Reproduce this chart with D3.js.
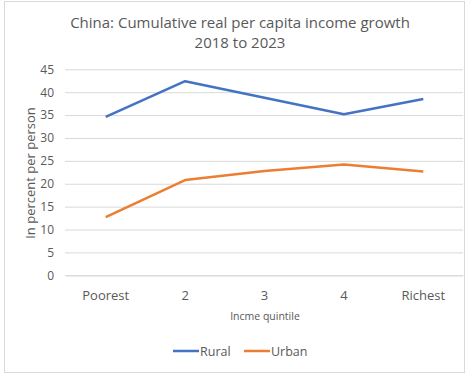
<!DOCTYPE html>
<html><head><meta charset="utf-8">
<script src="https://cdn.jsdelivr.net/npm/d3@7"></script>
<style>body{margin:0;background:#fff}</style>
</head><body>
<svg id="c" width="472" height="379"></svg>
<script>
const categories = ["Poorest", "2", "3", "4", "Richest"];
const rural = [34.6, 42.4, 38.8, 35.2, 38.5];
const urban = [12.7, 20.8, 22.8, 24.2, 22.7];
const yTicks = [0, 5, 10, 15, 20, 25, 30, 35, 40, 45];
const seriesNames = ["Rural", "Urban"];
const colors = ["#4472C4", "#ED7D31"];

const svg = d3.select("#c");
const font = "'Open Sans', sans-serif";
const txt = "#595959";

svg.append("rect").attr("x", 4.5).attr("y", 1.5).attr("width", 460).attr("height", 371)
  .attr("fill", "#fff").attr("stroke", "#D9D9D9");

const x = d3.scaleBand().domain(categories).range([66, 463]);
const y = d3.scaleLinear().domain([0, 45]).range([275.3, 69.3]);

svg.append("text").attr("x", 240).attr("y", 28).attr("text-anchor", "middle")
  .attr("font-family", font).attr("font-size", 15).attr("fill", txt)
  .text("China: Cumulative real per capita income growth");
svg.append("text").attr("x", 240).attr("y", 47.5).attr("text-anchor", "middle")
  .attr("font-family", font).attr("font-size", 15).attr("fill", txt)
  .text("2018 to 2023");

const yAxis = svg.append("g").attr("transform", "translate(65,0)")
  .call(d3.axisLeft(y).tickValues(yTicks).tickSize(-398).tickPadding(11));
yAxis.select(".domain").remove();
yAxis.selectAll("line").attr("stroke", "#D9D9D9");
yAxis.selectAll("text").attr("font-family", font).attr("font-size", 12).attr("fill", txt);

const xAxis = svg.append("g").attr("transform", "translate(0,275.3)")
  .call(d3.axisBottom(x).tickSize(0).tickPadding(15));
xAxis.select(".domain").attr("stroke", "#D9D9D9");
xAxis.selectAll("text").attr("font-family", font).attr("font-size", 13).attr("fill", txt);

svg.append("text").attr("transform", "translate(35,173) rotate(-90)").attr("text-anchor", "middle")
  .attr("font-family", font).attr("font-size", 13).attr("fill", txt).text("In percent per person");
svg.append("text").attr("x", 265).attr("y", 320).attr("text-anchor", "middle")
  .attr("font-family", font).attr("font-size", 10.5).attr("fill", txt).text("Incme quintile");

const line = d3.line().x((d, i) => x(categories[i]) + x.bandwidth() / 2).y(d => y(d));
[rural, urban].forEach((s, i) => {
  svg.append("path").datum(s).attr("d", line).attr("fill", "none")
    .attr("stroke", colors[i]).attr("stroke-width", 2.5).attr("stroke-linejoin", "round");
});

const legX = [173, 244];
seriesNames.forEach((n, i) => {
  svg.append("line").attr("x1", legX[i]).attr("x2", legX[i] + 26).attr("y1", 351).attr("y2", 351)
    .attr("stroke", colors[i]).attr("stroke-width", 2.5);
  svg.append("text").attr("x", legX[i] + 27).attr("y", 355.5).attr("font-family", font)
    .attr("font-size", 12.5).attr("fill", txt).text(n);
});
</script>
</body></html>
